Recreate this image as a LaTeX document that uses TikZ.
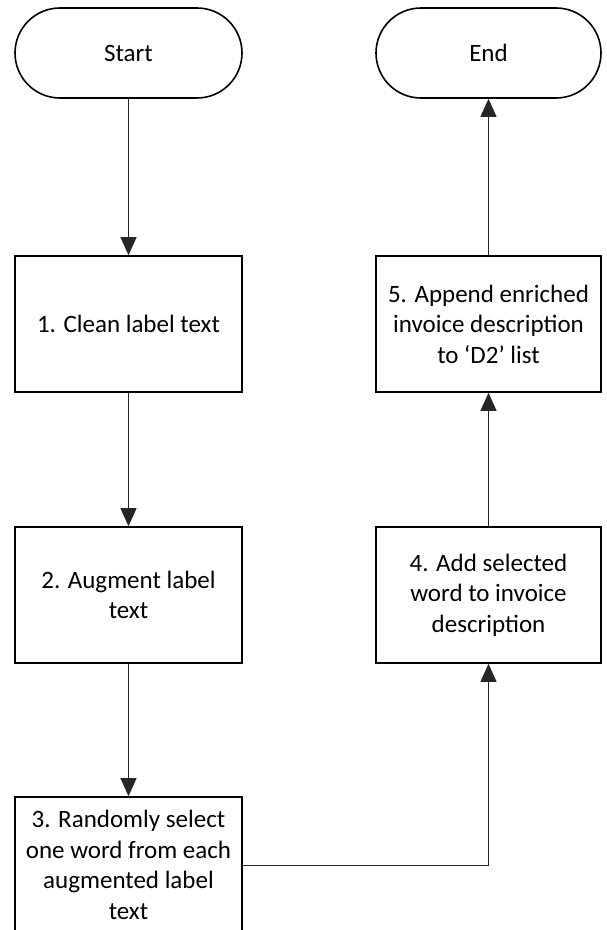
\documentclass[tikz,border=0pt]{standalone}
\usepackage{fontspec}
\setmainfont{Carlito}
\usetikzlibrary{arrows.meta}
\begin{document}
\begin{tikzpicture}[x=1pt,y=-1pt,
  every node/.style={font=\fontsize{25}{30.5}\selectfont, align=center, inner sep=0pt},
  terminal/.style={draw=black, line width=1.6pt, rounded corners=45pt,
    minimum width=227pt, minimum height=90pt},
  process/.style={draw=black, line width=1.6pt,
    minimum width=227pt, minimum height=136pt},
  flow/.style={draw=black!85, line width=0.9pt,
    -{Triangle[width=16pt,length=18pt]}}
]
\useasboundingbox (0,0) rectangle (606,930);
\fill[white] (0,0) rectangle (606,930);

% left column
\node[terminal] (start) at (128.5,53) {Start};
\node[process] (s1) at (128.5,324) {1. Clean label text};
\node[process] (s2) at (128.5,595) {2. Augment label\\text};
\node[process] (s3) at (128.5,865) {3. Randomly select\\one word from each\\augmented label\\text};

% right column
\node[terminal, minimum width=225pt] (end) at (488.5,53) {End};
\node[process, minimum width=225pt] (s5) at (488.5,324) {5. Append enriched\\invoice description\\to ‘D2’ list};
\node[process, minimum width=225pt] (s4) at (488.5,595) {4. Add selected\\word to invoice\\description};

% connectors
\draw[flow] (start) -- (s1);
\draw[flow] (s1) -- (s2);
\draw[flow] (s2) -- (s3);
\draw[flow] (s3.east) -| (s4.south);
\draw[flow] (s4) -- (s5);
\draw[flow] (s5) -- (end);
\end{tikzpicture}
\end{document}
